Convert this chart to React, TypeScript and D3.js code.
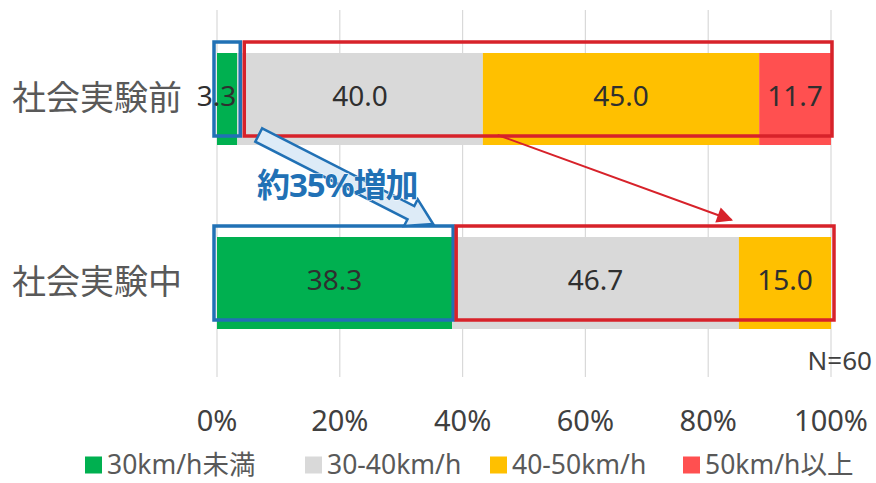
import React from "react";
import * as d3 from "d3";

// Survey of vehicle speeds before / during the social experiment (N=60)
const categories = ["社会実験前", "社会実験中"];
const seriesNames = ["30km/h未満", "30-40km/h", "40-50km/h", "50km/h以上"];
const beforeValues = [3.3, 40.0, 45.0, 11.7];
const duringValues = [38.3, 46.7, 15.0, 0];
const tickValues = [0, 20, 40, 60, 80, 100];
const tickLabels = ["0%", "20%", "40%", "60%", "80%", "100%"];
const annotationText = "約35%増加";
const sampleNote = "N=60";

const colors = ["#00B050", "#D9D9D9", "#FFC000", "#FF5050"];
const RED = "#D7222A";
const BLUE = "#2171B5";
const FONT = "'Noto Sans', 'Noto Sans CJK JP', sans-serif";

const W = 876;
const H = 483;

export default function App() {
  const x = d3.scaleLinear().domain([0, 100]).range([217, 831]);
  const y = d3
    .scaleBand<string>()
    .domain(categories)
    .range([7, 375])
    .paddingInner(0.5)
    .paddingOuter(0.25);
  const bw = y.bandwidth();

  const rows = [beforeValues, duringValues];
  const stacked = rows.map((vals) => {
    let acc = 0;
    return vals.map((v, i) => {
      const s = { x0: acc, x1: acc + v, v, i };
      acc += v;
      return s;
    });
  });

  // highlight frames: low-speed share (blue) and the rest (red)
  const frames = categories.map((c, r) => {
    const split = rows[r][0];
    const top = (y(c) as number) - 11;
    const h = bw + 2;
    return { top, h, split };
  });

  // block arrow (blue) geometry
  const bx0 = x(6.8),
    by0 = (y(categories[0]) as number) + bw - 10;
  const bx1 = x(35.2),
    by1 = (y(categories[1]) as number) - 13;
  const ang = Math.atan2(by1 - by0, bx1 - bx0);
  const len = Math.hypot(bx1 - bx0, by1 - by0);
  const shaftW = 7.5,
    headW = 15,
    headL = 25;
  const blockPts: [number, number][] = [
    [0, -shaftW],
    [len - headL, -shaftW],
    [len - headL, -headW],
    [len, 0],
    [len - headL, headW],
    [len - headL, shaftW],
    [0, shaftW],
  ];
  const blockPath =
    "M" +
    blockPts
      .map(([u, v]) => {
        const px = bx0 + u * Math.cos(ang) - v * Math.sin(ang);
        const py = by0 + u * Math.sin(ang) + v * Math.cos(ang);
        return `${px.toFixed(1)},${py.toFixed(1)}`;
      })
      .join("L") +
    "Z";

  // thin red arrow
  const rx0 = x(45.7),
    ry0 = (y(categories[0]) as number) + bw - 10;
  const rx1 = x(83.8),
    ry1 = (y(categories[1]) as number) - 17;

  const legendX = [85, 305, 490, 683];
  const legendY = 464;

  return (
    <svg width={W} height={H} style={{ display: "block", position: "absolute", left: 0, top: 0 }}>
      <defs>
        <marker id="redHead" viewBox="0 0 10 10" refX="9" refY="5" markerWidth="18" markerHeight="16" orient="auto" markerUnits="userSpaceOnUse">
          <path d="M0,0 L10,5 L0,10 Z" fill={RED} />
        </marker>
      </defs>
      <rect width={W} height={H} fill="#fff" />

      {/* gridlines */}
      {tickValues.map((t) => (
        <line key={t} x1={x(t)} x2={x(t)} y1={10} y2={377} stroke="#D9D9D9" strokeWidth={1.2} />
      ))}

      {/* stacked bars */}
      {stacked.map((segs, r) =>
        segs
          .filter((s) => s.v > 0)
          .map((s) => (
            <rect
              key={`${r}-${s.i}`}
              x={x(s.x0)}
              y={y(categories[r])}
              width={x(s.x1) - x(s.x0)}
              height={bw}
              fill={colors[s.i]}
            />
          ))
      )}

      {/* highlight frames */}
      {frames.map((f, r) => (
        <g key={r} fill="none" strokeWidth={3.5}>
          <rect x={x(0) - 3} y={f.top} width={x(f.split) - x(0) + (r === 0 ? 6 : 4)} height={f.h} stroke={BLUE} />
          <rect
            x={x(f.split) + (r === 0 ? 7 : 4)}
            y={f.top}
            width={x(100) - x(f.split) - (r === 0 ? 7 : 4) + (r === 0 ? 1 : 3)}
            height={f.h}
            stroke={RED}
          />
        </g>
      ))}

      {/* value labels */}
      {stacked.map((segs, r) =>
        segs
          .filter((s) => s.v > 0)
          .map((s) => {
            const narrow = x(s.x1) - x(s.x0) < 40;
            return (
              <text
                key={`l${r}-${s.i}`}
                x={narrow ? x(s.x1) - 1 : (x(s.x0) + x(s.x1)) / 2}
                y={(y(categories[r]) as number) + bw / 2 - 4}
                textAnchor={narrow ? "end" : "middle"}
                dominantBaseline="central"
                fontFamily={FONT}
                fontSize={28}
                fill="#2F2F2F"
              >
                {s.v.toFixed(1)}
              </text>
            );
          })
      )}

      {/* category labels */}
      {categories.map((c) => (
        <text
          key={c}
          x={182}
          y={(y(c) as number) + bw / 2 - 2}
          textAnchor="end"
          dominantBaseline="central"
          fontFamily={FONT}
          fontSize={34}
          fill="#595959"
        >
          {c}
        </text>
      ))}

      {/* red arrow */}
      <line x1={rx0} y1={ry0} x2={rx1} y2={ry1} stroke={RED} strokeWidth={2} markerEnd="url(#redHead)" />

      {/* blue block arrow with annotation */}
      <path d={blockPath} fill="#DDEBF7" stroke={BLUE} strokeWidth={2.5} strokeLinejoin="miter" />
      <text
        x={x(6.5)}
        y={184}
        dominantBaseline="central"
        fontFamily={FONT}
        fontSize={33}
        fontWeight={700}
        fill={BLUE}
        stroke="#fff"
        strokeWidth={1}
        paintOrder="stroke"
        letterSpacing={-1}
      >
        {annotationText}
      </text>

      {/* sample size */}
      <text x={872} y={360} textAnchor="end" dominantBaseline="central" fontFamily={FONT} fontSize={26} fill="#404040">
        {sampleNote}
      </text>

      {/* axis tick labels */}
      {tickValues.map((t, i) => (
        <text
          key={`t${t}`}
          x={x(t)}
          y={419}
          textAnchor="middle"
          dominantBaseline="central"
          fontFamily={FONT}
          fontSize={29}
          fill="#404040"
        >
          {tickLabels[i]}
        </text>
      ))}

      {/* legend */}
      {seriesNames.map((n, i) => (
        <g key={n}>
          <rect x={legendX[i]} y={legendY - 7.5} width={17} height={17} fill={colors[i]} />
          <text x={legendX[i] + 22} y={legendY} dominantBaseline="central" fontFamily={FONT} fontSize={26.5} fill="#595959">
            {n}
          </text>
        </g>
      ))}
    </svg>
  );
}
